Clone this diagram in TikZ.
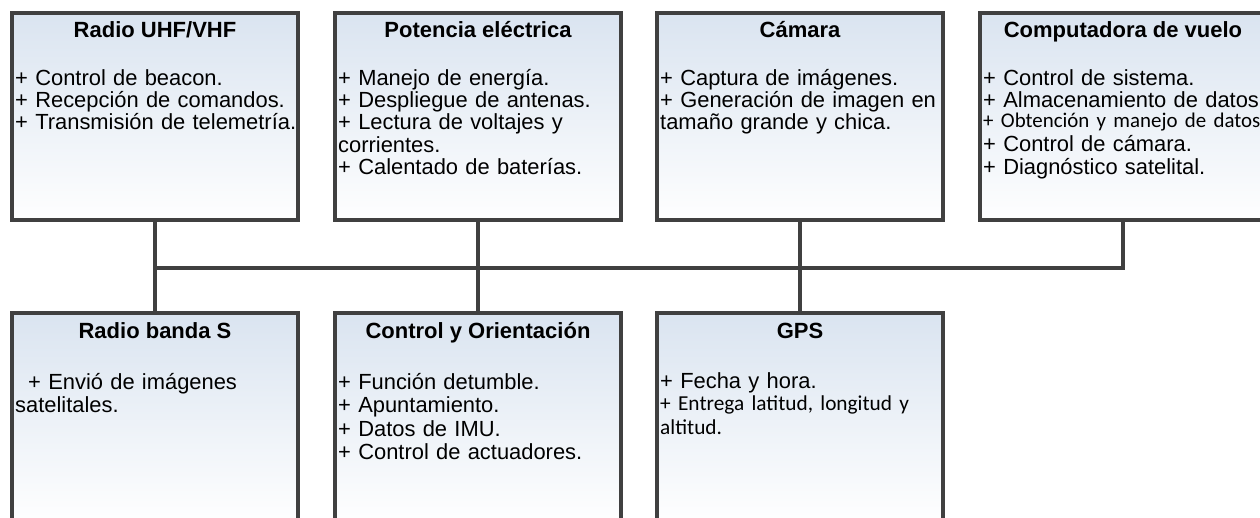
\documentclass[tikz,border=0pt]{standalone}
\usepackage{fontspec}
\setmainfont{Liberation Sans}
\newfontfamily\calibfam{Carlito}
\newcommand{\calib}[1][21.3pt]{\calibfam\fontsize{#1}{22.5pt}\selectfont}
\usetikzlibrary{calc}
\definecolor{edge}{HTML}{404040}
\definecolor{topfill}{HTML}{DAE4F0}
\tikzset{
  box/.style={draw=edge, line width=4pt, top color=topfill, bottom color=white!97!topfill,
    minimum width=286pt, minimum height=207pt, anchor=north west, inner sep=0pt, outer sep=0pt},
  conn/.style={draw=edge, line width=4pt},
  ttl/.style={anchor=base, inner sep=0pt, font=\fontsize{22pt}{22pt}\selectfont\bfseries},
  body/.style={anchor=base west, inner sep=0pt, text width=320pt, align=left,
    font=\fontsize{21.9pt}{22.4pt}\selectfont},
  bodyb/.style={body, font=\fontsize{21.9pt}{23.6pt}\selectfont}
}
\begin{document}
\begin{tikzpicture}[x=1pt,y=-1pt]
\useasboundingbox (0,0) rectangle (1260,517);
\clip (0,0) rectangle (1260,517);
\fill[white] (0,0) rectangle (1260,517);
% top row
\node[box] (b1) at (12,13) {};
\node[box] (b2) at (335,13) {};
\node[box] (b3) at (657,13) {};
\node[box] (b4) at (980,13) {};
% bottom row
\node[box] (b5) at (12,313) {};
\node[box] (b6) at (335,313) {};
\node[box] (b7) at (657,313) {};
\coordinate (bus) at (0,268);
% connectors
\draw[conn] (b1.south) -- (b1.south |- bus);
\draw[conn] (b2.south) -- (b2.south |- bus);
\draw[conn] (b3.south) -- (b3.south |- bus);
\draw[conn] (b4.south) -- (b4.south |- bus);
\draw[conn] (b5.north) -- (b5.north |- bus);
\draw[conn] (b6.north) -- (b6.north |- bus);
\draw[conn] (b7.north) -- (b7.north |- bus);
\draw[conn] ([xshift=-2pt]b1.south |- bus) -- ([xshift=2pt]b4.south |- bus);
% titles
\node[ttl] (t1) at ($(b1.north)+(0,24)$) {Radio UHF/VHF};
\node[ttl] (t2) at ($(b2.north)+(0,24)$) {Potencia eléctrica};
\node[ttl] (t3) at ($(b3.north)+(0,24)$) {Cámara};
\node[ttl] (t4) at ($(b4.north)+(0,24)$) {Computadora de vuelo};
\node[ttl] (t5) at ($(b5.north)+(0,25)$) {Radio banda S};
\node[ttl] (t6) at ($(b6.north)+(0,25)$) {Control y Orientación};
\node[ttl] (t7) at ($(b7.north)+(0,25)$) {GPS};
% bodies
\node[body] (x1) at ($(b1.north west)+(3,72)$) {+ Control de beacon.\\+ Recepción de comandos.\\+ Transmisión de telemetría.};
\node[body] (x2) at ($(b2.north west)+(3,72)$) {+ Manejo de energía.\\+ Despliegue de antenas.\\+ Lectura de voltajes y\\corrientes.\\+ Calentado de baterías.};
\node[body] (x3) at ($(b3.north west)+(3,72)$) {+ Captura de imágenes.\\+ Generación de imagen en\\tamaño grande y chica.};
\node[body] (x4) at ($(b4.north west)+(3,72)$) {+ Control de sistema.\\+ Almacenamiento de datos\\[-2pt]{\calib[20.9pt] + Obtención y manejo de datos}\\[1.5pt]+ Control de cámara.\\+ Diagnóstico satelital.};
\node[bodyb] (x5) at ($(b5.north west)+(3,76)$) {\hspace*{13pt}+ Envió de imágenes\\satelitales.};
\node[bodyb] (x6) at ($(b6.north west)+(3,76)$) {+ Función detumble.\\+ Apuntamiento.\\+ Datos de IMU.\\+ Control de actuadores.};
\node[body] (x7) at ($(b7.north west)+(3,75)$) {+ Fecha y hora.\\{\calib + Entrega latitud, longitud y}\\[1.5pt]{\calib altitud.}};
\end{tikzpicture}
\end{document}
